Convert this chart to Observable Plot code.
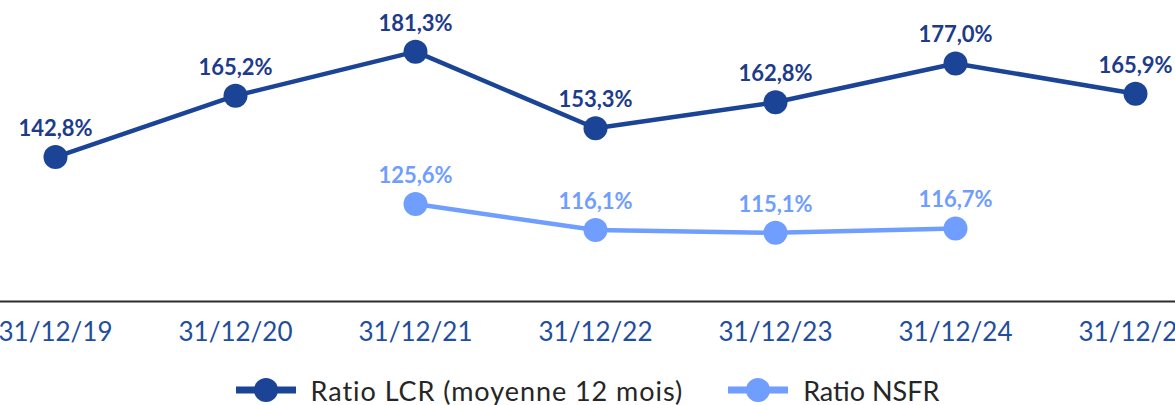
<!DOCTYPE html>
<html>
<head>
<meta charset="utf-8">
<script src="https://cdn.jsdelivr.net/npm/d3@7"></script>
<script src="https://cdn.jsdelivr.net/npm/@observablehq/plot@0.6"></script>
<style>
  html, body { margin: 0; padding: 0; background: #fff; overflow: hidden; }
  #chart svg { display: block; }
  #legend { display: flex; justify-content: center; align-items: center; gap: 45px; height: 30px; padding-top: 20px;
            font-family: Lato, sans-serif; font-size: 27px; color: #262626; }
  .item { display: flex; align-items: center; gap: 15px; white-space: nowrap; }
</style>
</head>
<body>
<div id="chart"></div>
<div id="legend"></div>
<script>
const dates = ["31/12/19", "31/12/20", "31/12/21", "31/12/22", "31/12/23", "31/12/24", "31/12/25"];
const lcr = [142.8, 165.2, 181.3, 153.3, 162.8, 177.0, 165.9];
const nsfr = [null, null, 125.6, 116.1, 115.1, 116.7, null];
const seriesNames = ["Ratio LCR (moyenne 12 mois)", "Ratio NSFR"];
const seriesColors = ["#1B4496", "#6F9EFF"];
const labelColors = ["#1D3B8B", "#6F9EFF"];
const legendSpacing = ["0.95px", "0px"];

const fmt = v => v.toFixed(1).replace(".", ",") + "%";
const lcrRows = dates.map((d, i) => ({date: d, value: lcr[i]}));
const nsfrRows = dates.map((d, i) => ({date: d, value: nsfr[i]})).filter(d => d.value != null);

const plot = Plot.plot({
  width: 1175,
  height: 355,
  marginTop: 0,
  marginBottom: 54,
  marginLeft: 0,
  marginRight: 0,
  style: {fontFamily: "Lato, sans-serif", background: "#fff"},
  x: {type: "point", domain: dates, range: [55, 1135], padding: 0, label: null},
  y: {domain: [90, 200], axis: null},
  marks: [
    Plot.ruleY([90], {stroke: "#2b2b2b", strokeWidth: 2}),
    Plot.axisX({tickSize: 0, tickPadding: 21, fontSize: 26, color: "#1F4E9E", fontWeight: 400, label: null}),
    Plot.line(lcrRows, {x: "date", y: "value", stroke: seriesColors[0], strokeWidth: 4.5}),
    Plot.dot(lcrRows, {x: "date", y: "value", r: 12, fill: seriesColors[0]}),
    Plot.text(lcrRows, {x: "date", y: "value", text: d => fmt(d.value), dy: -28, fill: labelColors[0], fontWeight: "bold", fontSize: 22}),
    Plot.line(nsfrRows, {x: "date", y: "value", stroke: seriesColors[1], strokeWidth: 4.5}),
    Plot.dot(nsfrRows, {x: "date", y: "value", r: 12, fill: seriesColors[1]}),
    Plot.text(nsfrRows, {x: "date", y: "value", text: d => fmt(d.value), dy: -28, fill: labelColors[1], fontWeight: "bold", fontSize: 22})
  ]
});
document.getElementById("chart").appendChild(plot);

const legend = document.getElementById("legend");
seriesNames.forEach((name, i) => {
  const item = document.createElement("div");
  item.className = "item";
  item.innerHTML = `<svg width="60" height="26"><line x1="0" x2="60" y1="13" y2="13" stroke="${seriesColors[i]}" stroke-width="7"/><circle cx="30" cy="13" r="12" fill="${seriesColors[i]}"/></svg><span style="letter-spacing:${legendSpacing[i]}">${name}</span>`;
  legend.appendChild(item);
});
</script>
</body>
</html>
